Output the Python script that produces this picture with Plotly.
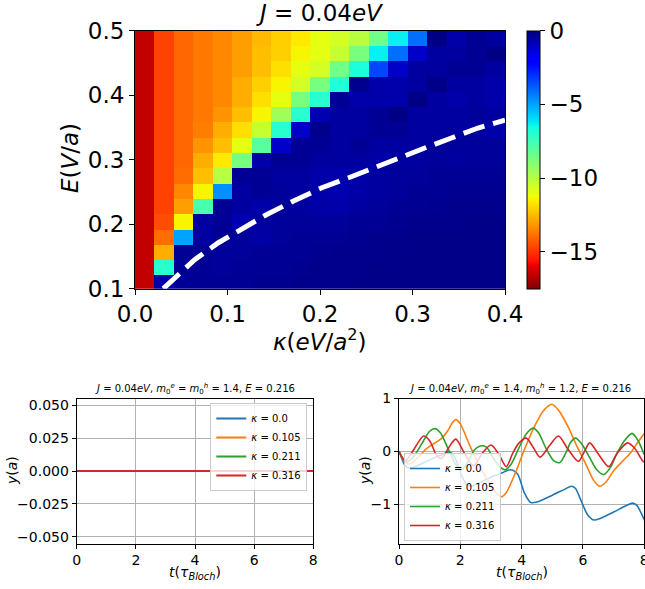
import numpy as np
import plotly.graph_objects as go

# ---------------- data: heatmap ----------------
kappa_edges = [0.0, 0.0211, 0.0421, 0.0632, 0.0842, 0.1053, 0.1263, 0.1474, 0.1684, 0.1895,
               0.2105, 0.2316, 0.2526, 0.2737, 0.2947, 0.3158, 0.3368, 0.3579, 0.3789, 0.4]
E_edges = [0.0963, 0.12, 0.1438, 0.1675, 0.1913, 0.215, 0.2388, 0.2625, 0.2863, 0.31,
           0.3338, 0.3575, 0.3813, 0.405, 0.4288, 0.4525, 0.4763, 0.5]

row0 = [-16.5, -0.65, -0.3, -0.3, -0.3, -0.3, -0.25, -0.25, -0.2, -0.2, -0.2, -0.15, -0.15, -0.15, -0.15, -0.15, -0.15, -0.15, -0.15]
row1 = [-16.5, -7.0, -0.3, -0.35, -0.4, -0.35, -0.3, -0.3, -0.25, -0.2, -0.2, -0.2, -0.15, -0.15, -0.15, -0.15, -0.15, -0.15, -0.15]
row2 = [-16.5, -12.7, -0.3, -0.3, -0.4, -0.4, -0.35, -0.3, -0.3, -0.25, -0.2, -0.2, -0.2, -0.15, -0.15, -0.15, -0.15, -0.15, -0.15]
row3 = [-16.5, -13.9, -5.0, -0.5, -0.3, -0.4, -0.6, -0.4, -0.3, -0.3, -0.3, -0.25, -0.2, -0.2, -0.15, -0.15, -0.15, -0.15, -0.15]
row4 = [-16.5, -14.5, -11.4, -0.5, -0.3, -0.73, -0.5, -0.4, -0.4, -0.4, -0.4, -0.3, -0.3, -0.25, -0.2, -0.2, -0.2, -0.15, -0.15]
row5 = [-16.5, -14.7, -13.0, -7.65, -0.3, -0.5, -0.65, -0.4, -0.5, -0.6, -0.65, -0.5, -0.4, -0.3, -0.3, -0.25, -0.2, -0.2, -0.2]
row6 = [-16.5, -14.7, -13.4, -11.4, -4.65, -0.5, -0.3, -0.4, -0.5, -0.65, -0.7, -0.6, -0.5, -0.4, -0.3, -0.3, -0.25, -0.25, -0.25]
row7 = [-16.5, -14.7, -13.9, -12.4, -10.0, -0.3, -0.3, -0.5, -0.5, -0.6, -0.65, -0.6, -0.5, -0.4, -0.4, -0.3, -0.3, -0.3, -0.3]
row8 = [-16.5, -14.7, -14.0, -12.7, -11.6, -8.7, -0.65, -0.3, -0.3, -0.5, -0.5, -0.5, -0.6, -0.5, -0.5, -0.4, -0.5, -0.4, -0.4]
row9 = [-16.5, -14.7, -14.0, -13.2, -12.4, -11.0, -8.0, -1.1, -0.3, -0.3, -0.5, -0.3, -0.5, -0.5, -0.5, -0.4, -0.4, -0.4, -0.4]
row10 = [-16.5, -14.7, -14.0, -13.6, -12.7, -11.8, -10.3, -7.0, -1.1, -0.2, -0.5, -0.5, -0.3, -0.3, -0.5, -0.5, -0.5, -0.5, -0.65]
row11 = [-16.5, -14.7, -14.0, -13.7, -13.2, -12.4, -11.4, -9.5, -7.0, -0.73, -0.5, -0.5, -0.3, -0.1, -0.5, -0.5, -0.5, -0.4, -0.5]
row12 = [-16.5, -14.7, -14.0, -13.7, -13.4, -12.7, -11.8, -11.0, -8.7, -7.0, -0.3, -0.65, -0.65, -0.65, -0.1, -0.5, -0.65, -0.5, -0.65]
row13 = [-16.5, -14.7, -14.0, -13.7, -13.4, -12.7, -12.1, -11.4, -10.6, -8.7, -6.8, -0.2, -0.65, -0.65, -0.5, -0.1, -0.5, -0.5, -0.65]
row14 = [-16.5, -14.7, -14.0, -13.7, -13.4, -13.0, -12.4, -11.8, -11.0, -10.6, -8.5, -6.7, -3.4, -1.1, -0.5, -0.5, -0.3, -0.3, -0.5]
row15 = [-16.5, -14.7, -14.0, -13.7, -13.4, -13.0, -12.4, -12.1, -11.4, -11.0, -10.3, -8.7, -6.3, -4.1, -1.1, -0.5, -0.5, -0.3, -0.1]
row16 = [-16.5, -14.7, -14.0, -13.7, -13.4, -13.0, -12.5, -12.1, -11.6, -11.0, -10.6, -10.0, -8.5, -6.3, -4.1, -0.1, -0.65, -0.3, -0.5]
z_rows = [row0, row1, row2, row3, row4, row5, row6, row7, row8, row9, row10,
          row11, row12, row13, row14, row15, row16]

# dashed boundary curve
curve_kappa = [0.0306, 0.0446, 0.0645, 0.0897, 0.1168, 0.142, 0.1708, 0.2014, 0.2303,
               0.2591, 0.2876, 0.3132, 0.342, 0.3708, 0.4]
curve_E = [0.1, 0.1192, 0.145, 0.1709, 0.1941, 0.2147, 0.2355, 0.2561, 0.2716,
           0.2882, 0.3027, 0.3181, 0.3336, 0.3491, 0.3615]

cbar_ticks = [0, -5, -10, -15]

# ---------------- data: bottom panels ----------------
kappa_labels = ["0.0", "0.105", "0.211", "0.316"]
colors = ["#1f77b4", "#ff7f0e", "#2ca02c", "#d62728"]

t_left = [0, 2, 4, 6, 8]
y_left = [[0, 0, 0, 0, 0], [0, 0, 0, 0, 0], [0, 0, 0, 0, 0], [0, 0, 0, 0, 0]]

t_blue = [0.0, 0.1, 0.2, 0.36, 0.6, 0.9, 1.2, 1.45, 1.62, 1.75, 1.9, 2.05, 2.2, 2.35, 2.6, 3.0,
          3.35, 3.62, 3.75, 3.88, 4.1, 4.3, 4.5, 5.0, 5.4, 5.62, 5.75, 5.95, 6.15, 6.35, 6.6,
          7.0, 7.4, 7.62, 7.75, 7.9, 8.0, 8.1]
y_blue = [0.0, -0.15, -0.27, -0.32, -0.27, -0.19, -0.11, -0.05, -0.01, -0.05, -0.22, -0.47,
          -0.62, -0.66, -0.6, -0.49, -0.41, -0.35, -0.37, -0.44, -0.8, -0.97, -0.96, -0.83,
          -0.72, -0.66, -0.7, -0.95, -1.2, -1.3, -1.26, -1.15, -1.03, -0.98, -1.02, -1.17,
          -1.3, -1.42]
t_orange = [0.0, 0.15, 0.3, 0.5, 0.9, 1.2, 1.4, 1.6, 1.75, 1.85, 2.0, 2.3, 2.6, 2.9, 3.15,
            3.35, 3.5, 3.8, 4.1, 4.4, 4.7, 4.98, 5.2, 5.5, 5.8, 6.1, 6.35, 6.55, 6.75, 7.0,
            7.3, 7.55, 7.8, 8.0, 8.1]
y_orange = [0.0, -0.17, -0.24, -0.18, 0.05, 0.17, 0.25, 0.4, 0.55, 0.6, 0.52, 0.12, -0.25,
            -0.55, -0.78, -0.86, -0.78, -0.4, 0.05, 0.45, 0.76, 0.89, 0.78, 0.48, 0.1, -0.25,
            -0.55, -0.66, -0.58, -0.37, -0.18, -0.03, 0.18, 0.34, 0.42]
t_green = [0.0, 0.15, 0.27, 0.5, 0.8, 1.0, 1.17, 1.35, 1.6, 1.85, 2.05, 2.25, 2.45, 2.65,
           2.85, 3.1, 3.3, 3.45, 3.65, 3.9, 4.15, 4.37, 4.55, 4.8, 5.05, 5.25, 5.45, 5.6,
           5.75, 5.95, 6.2, 6.45, 6.68, 6.9, 7.1, 7.35, 7.6, 7.8, 8.0, 8.1]
y_green = [0.0, -0.15, -0.2, -0.08, 0.2, 0.38, 0.43, 0.35, 0.05, -0.25, -0.35, -0.2, 0.02,
           0.1, 0.08, -0.15, -0.3, -0.35, -0.25, 0.05, 0.33, 0.44, 0.35, 0.05, -0.18, -0.21,
           -0.02, 0.17, 0.25, 0.15, -0.1, -0.35, -0.44, -0.3, -0.05, 0.2, 0.34, 0.2, -0.06,
           -0.15]
t_red = [0.0, 0.2, 0.5, 0.8, 1.0, 1.25, 1.4, 1.6, 1.85, 2.1, 2.3, 2.45, 2.7, 3.0, 3.25, 3.5,
         3.7, 3.9, 4.15, 4.35, 4.6, 4.9, 5.2, 5.5, 5.85, 6.05, 6.22, 6.5, 6.84, 7.1, 7.45,
         7.7, 7.96, 8.05]
y_red = [0.0, -0.18, 0.05, 0.29, 0.2, -0.1, -0.13, 0.05, 0.23, 0.0, -0.2, -0.27, -0.05, 0.12,
         -0.05, -0.29, -0.05, 0.15, 0.25, 0.1, -0.11, 0.1, 0.29, 0.05, -0.19, 0.0, 0.16, -0.05,
         -0.29, -0.05, 0.16, 0.05, -0.19, -0.2]
t_right = [t_blue, t_orange, t_green, t_red]
y_right = [y_blue, y_orange, y_green, y_red]

# ---------------- style helpers ----------------
W, H = 645, 589
FONT = "DejaVu Sans"


def px_x(p):
    return p / W


def px_y(p):
    return 1 - p / H


def jet(s):
    r = np.interp(s, [0, 0.35, 0.66, 0.89, 1], [0, 0, 1, 1, 0.5])
    g = np.interp(s, [0, 0.125, 0.375, 0.64, 0.91, 1], [0, 0, 1, 1, 0, 0])
    b = np.interp(s, [0, 0.11, 0.34, 0.65, 1], [0.5, 1, 1, 0, 0])
    return "rgb(%d,%d,%d)" % (round(r * 255), round(g * 255), round(b * 255))


jet_r = [[p, jet(1 - p)] for p in np.linspace(0, 1, 101)]

fig = go.Figure()

fig.add_trace(go.Heatmap(
    x=kappa_edges, y=E_edges, z=z_rows, colorscale=jet_r, zmin=-17.5, zmax=0,
    xaxis="x", yaxis="y", showscale=True, hoverinfo="skip",
    colorbar=dict(x=px_x(527), xanchor="left", xpad=0, ypad=0,
                  y=px_y((30.7 + 288.7) / 2), yanchor="middle",
                  len=258 / H, lenmode="fraction", thickness=13, thicknessmode="pixels",
                  outlinewidth=1, outlinecolor="black",
                  tickvals=cbar_ticks, ticks="outside", ticklen=5, tickcolor="black",
                  tickfont=dict(size=23, family=FONT, color="black")),
))
fig.add_trace(go.Scatter(
    x=curve_kappa, y=curve_E, mode="lines", xaxis="x", yaxis="y", showlegend=False,
    line=dict(color="white", width=5, dash="22px,9px"),
))

for i in range(4):
    fig.add_trace(go.Scatter(
        x=t_left, y=y_left[i], mode="lines", xaxis="x2", yaxis="y2",
        name="<i>κ</i> = " + kappa_labels[i], legend="legend",
        line=dict(color=colors[i], width=2),
    ))
for i in range(4):
    fig.add_trace(go.Scatter(
        x=t_right[i], y=y_right[i], mode="lines", xaxis="x3", yaxis="y3",
        name="<i>κ</i> = " + kappa_labels[i], legend="legend2",
        line=dict(color=colors[i], width=1.6, shape="spline", smoothing=0.8),
    ))

axis_common = dict(showline=True, mirror=True, linecolor="black", linewidth=1,
                   ticks="outside", tickcolor="black", zeroline=False, automargin=False)
small_axis = dict(axis_common, ticklen=4, tickfont=dict(size=14, family=FONT, color="black"),
                  showgrid=True, gridcolor="#b0b0b0", gridwidth=1, ticklabeloverflow="allow")

legend_style = dict(bgcolor="rgba(255,255,255,0.8)", bordercolor="#cccccc", borderwidth=1,
                    font=dict(size=10, family=FONT, color="black"), tracegroupgap=0,
                    itemwidth=30)

fig.update_layout(
    width=W, height=H, margin=dict(l=0, r=0, t=0, b=0, autoexpand=False),
    paper_bgcolor="white", plot_bgcolor="white",
    font=dict(family=FONT, color="black"),
    xaxis=dict(axis_common, domain=[px_x(135), px_x(505)], range=[0, 0.4], anchor="y",
               tickvals=[0, 0.1, 0.2, 0.3, 0.4], tickformat=".1f", ticklen=5,
               tickfont=dict(size=23, family=FONT, color="black"), showgrid=False),
    yaxis=dict(axis_common, domain=[px_y(288.7), px_y(30.7)], range=[0.1, 0.5], anchor="x",
               tickvals=[0.1, 0.2, 0.3, 0.4, 0.5], tickformat=".1f", ticklen=5,
               tickfont=dict(size=23, family=FONT, color="black"), showgrid=False),
    xaxis2=dict(small_axis, domain=[px_x(76.7), px_x(313.3)], range=[0, 8], anchor="y2",
                tickvals=[0, 2, 4, 6, 8]),
    yaxis2=dict(small_axis, domain=[px_y(543.5), px_y(398.5)], range=[-0.055, 0.055],
                anchor="x2", tickvals=[-0.05, -0.025, 0, 0.025, 0.05], tickformat=".3f"),
    xaxis3=dict(small_axis, domain=[px_x(399), px_x(644.3)], range=[0, 8], anchor="y3",
                tickvals=[0, 2, 4, 6, 8]),
    yaxis3=dict(small_axis, domain=[px_y(543.5), px_y(398.5)], range=[-1.745, 1.0],
                anchor="x3", tickvals=[-1, 0, 1]),
    legend=dict(legend_style, x=px_x(307.3), xanchor="right", y=px_y(403), yanchor="top"),
    legend2=dict(legend_style, x=px_x(404), xanchor="left", y=px_y(541), yanchor="bottom"),
)

annots = [
    dict(text="<i>J</i> = 0.04<i>eV</i>", x=px_x(320), y=px_y(13), size=23, angle=0),
    dict(text="<i>κ</i>(<i>eV</i>/<i>a</i><sup>2</sup>)", x=px_x(320), y=px_y(340), size=23, angle=0),
    dict(text="<i>E</i>(<i>V</i>/<i>a</i>)", x=px_x(70), y=px_y(158), size=23, angle=-90),
    dict(text="<i>J</i> = 0.04<i>eV</i>, <i>m</i><sub>0</sub><sup><i>e</i></sup> = <i>m</i><sub>0</sub><sup><i>h</i></sup> = 1.4, <i>E</i> = 0.216",
         x=px_x(195), y=px_y(389), size=10, angle=0),
    dict(text="<i>t</i>(<i>τ</i><sub><i>Bloch</i></sub>)", x=px_x(195), y=px_y(573), size=14, angle=0),
    dict(text="<i>y</i>(<i>a</i>)", x=px_x(12), y=px_y(471), size=14, angle=-90),
    dict(text="<i>J</i> = 0.04<i>eV</i>, <i>m</i><sub>0</sub><sup><i>e</i></sup> = 1.4, <i>m</i><sub>0</sub><sup><i>h</i></sup> = 1.2, <i>E</i> = 0.216",
         x=px_x(520), y=px_y(389), size=10, angle=0),
    dict(text="<i>t</i>(<i>τ</i><sub><i>Bloch</i></sub>)", x=px_x(522), y=px_y(573), size=14, angle=0),
    dict(text="<i>y</i>(<i>a</i>)", x=px_x(365), y=px_y(471), size=14, angle=-90),
]
for a in annots:
    fig.add_annotation(text=a["text"], x=a["x"], y=a["y"], xref="paper", yref="paper",
                       xanchor="center", yanchor="middle", showarrow=False, textangle=a["angle"],
                       font=dict(size=a["size"], family=FONT, color="black"))

fig.write_html("out.html")
